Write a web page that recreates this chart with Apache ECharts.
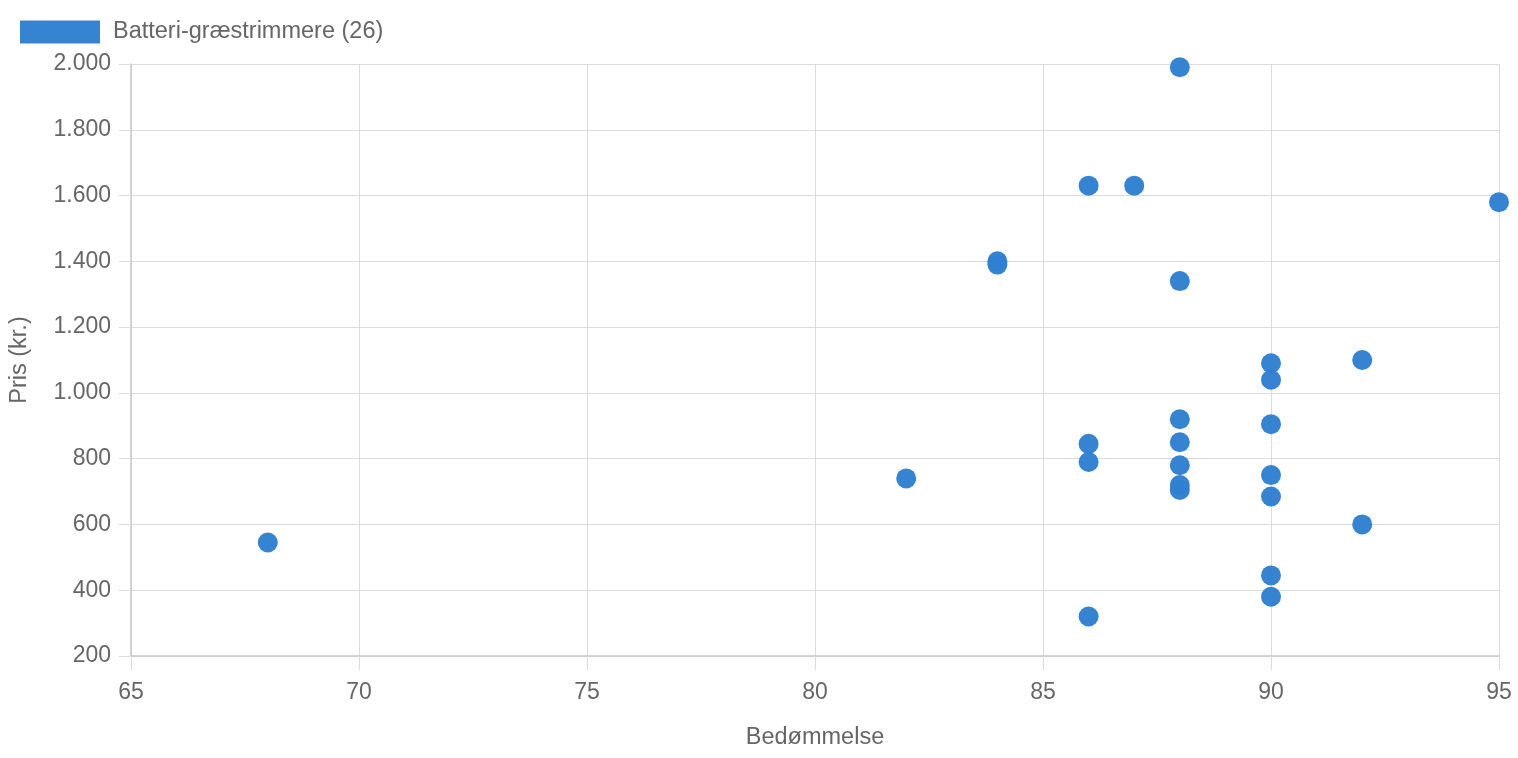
<!DOCTYPE html>
<html>
<head>
<meta charset="utf-8">
<script src="https://cdn.jsdelivr.net/npm/echarts@6/dist/echarts.min.js"></script>
<style>
html,body{margin:0;padding:0;background:#fff;overflow:hidden;}
#chart{width:1518px;height:758px;}
</style>
</head>
<body>
<div id="chart"></div>
<script>
const seriesName = 'Batteri-græstrimmere (26)';
const ratings = [68, 82, 84, 84, 86, 86, 86, 86, 87, 88, 88, 88, 88, 88, 88, 88, 90, 90, 90, 90, 90, 90, 90, 92, 92, 95];
const prices  = [545, 740, 1400, 1390, 1630, 845, 790, 320, 1630, 1990, 1340, 920, 850, 780, 720, 705, 1090, 1040, 905, 750, 685, 445, 380, 1100, 600, 1580];
const xTicks = [65, 70, 75, 80, 85, 90, 95];
const yTicks = [200, 400, 600, 800, 1000, 1200, 1400, 1600, 1800, 2000];

const points = ratings.map((r, i) => [r, prices[i]]);
const fmt = v => String(v).replace(/\B(?=(\d{3})+(?!\d))/g, '.');
const FONT = 'Liberation Sans, Arial, Helvetica, sans-serif';
const COLOR = '#3080d0';

const chart = echarts.init(document.getElementById('chart'));
chart.setOption({
  animation: false,
  textStyle: { fontFamily: FONT },
  legend: {
    left: 15, top: 15,
    itemWidth: 80, itemHeight: 23, itemGap: 10,
    icon: 'rect',
    textStyle: { fontSize: 23.5, color: '#666', fontFamily: FONT, padding: [4, 0, 0, 8] },
    data: [seriesName]
  },
  grid: { left: 131, width: 1368, top: 64, height: 592, containLabel: false },
  xAxis: {
    type: 'value',
    min: xTicks[0], max: xTicks[xTicks.length - 1], interval: 5,
    name: 'Bedømmelse', nameLocation: 'middle', nameGap: 70,
    nameTextStyle: { fontSize: 23.5, color: '#666', fontFamily: FONT },
    axisLine: { show: true, lineStyle: { color: '#c8c8c8', width: 1.5 } },
    axisTick: { show: true, length: 14, lineStyle: { color: '#dcdcdc' } },
    axisLabel: { fontSize: 23, color: '#666', margin: 25, fontFamily: FONT },
    splitLine: { show: true, lineStyle: { color: '#dcdcdc', width: 1 } }
  },
  yAxis: {
    type: 'value',
    min: yTicks[0], max: yTicks[yTicks.length - 1], interval: 200,
    name: 'Pris (kr.)', nameLocation: 'middle', nameGap: 99, nameRotate: 90,
    nameTextStyle: { fontSize: 23.5, color: '#666', fontFamily: FONT },
    axisLine: { show: true, lineStyle: { color: '#c8c8c8', width: 1.5 } },
    axisTick: { show: true, length: 12, lineStyle: { color: '#dcdcdc' } },
    axisLabel: { fontSize: 23, color: '#666', margin: 20, fontFamily: FONT, formatter: fmt, padding: [3, 0, 0, 0] },
    splitLine: { show: true, lineStyle: { color: '#dcdcdc', width: 1 } }
  },
  series: [{
    name: seriesName,
    type: 'scatter',
    symbol: 'circle',
    symbolSize: 20,
    itemStyle: { color: COLOR, opacity: 0.97 },
    data: points
  }]
});
</script>
</body>
</html>
